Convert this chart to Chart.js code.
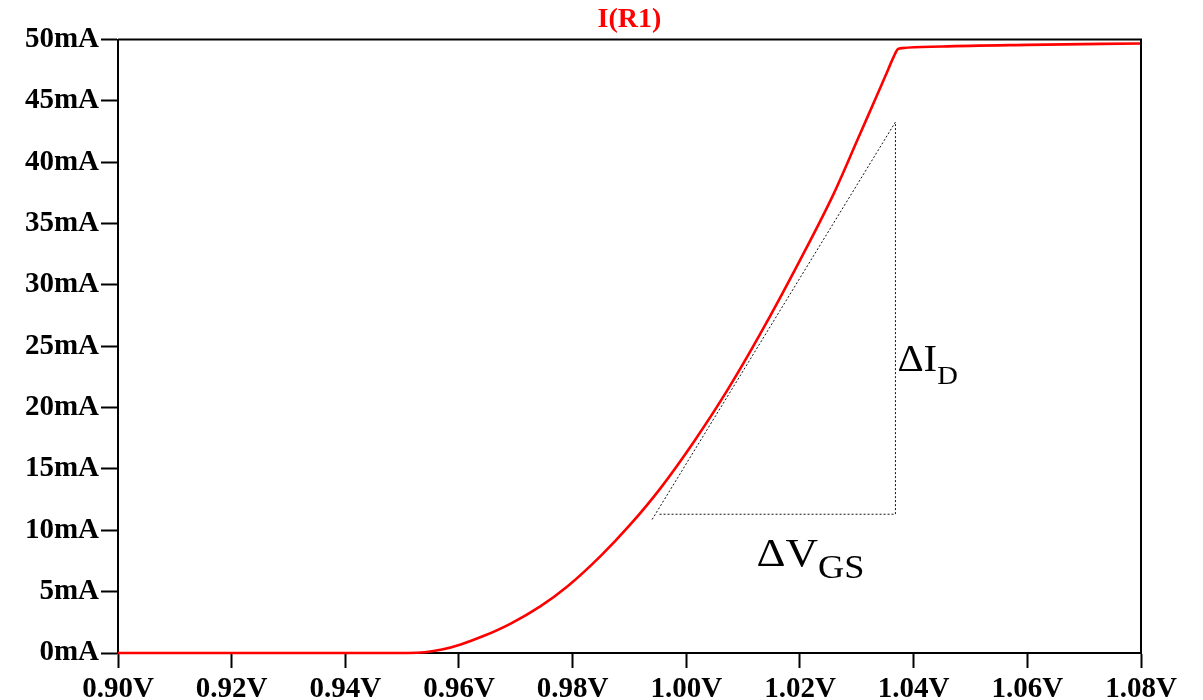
<!DOCTYPE html>
<html>
<head>
<meta charset="utf-8">
<title>I(R1)</title>
<script src="https://cdn.jsdelivr.net/npm/chart.js@4.4.1/dist/chart.umd.min.js"></script>
<style>
  html, body { margin: 0; padding: 0; background: #fff; }
  #wrap { width: 1203px; height: 700px; position: relative; }
</style>
</head>
<body>
<div id="wrap"><canvas id="c" width="1203" height="700"></canvas></div>
<script>
// Gate voltage sweep (V) and drain current through R1 (mA)
const vgs = [0.900, 0.945, 0.951, 0.954, 0.957, 0.9603, 0.9644, 0.9691, 0.9743, 0.9790,
             0.9849, 0.9902, 0.9954, 1.0013, 1.0072, 1.0130, 1.0201, 1.0259, 1.0300,
             1.0333, 1.0350, 1.0365, 1.0372, 1.0380, 1.0450, 1.0600, 1.0800];
const idR1 = [0, 0, 0, 0.06, 0.28, 0.7, 1.4, 2.4, 3.8, 5.4,
              7.9, 10.5, 13.4, 17.2, 21.4, 26.0, 32.1, 37.4, 41.7,
              45.2, 47.0, 48.6, 49.2, 49.3, 49.43, 49.56, 49.68];

// Slope triangle: hypotenuse, then vertical (ΔI_D), then horizontal (ΔV_GS)
const triV = [0.99398, 1.03679, 1.03679, 0.99509];
const triI = [10.88, 43.27, 11.31, 11.31];

// Axis ranges and tick steps
const xMin = 0.90, xMax = 1.08, xStep = 0.02;
const yMin = 0, yMax = 50, yStep = 5;

// Annotation anchors (left edge / baseline) in V, mA
const noteDI = { v: 1.03714, i: 23.0 };
const noteDV = { v: 1.01233, i: 7.1 };

const curve = vgs.map((v, k) => ({ x: v, y: idR1[k] }));
const tri = triV.map((v, k) => ({ x: v, y: triI[k] }));

const SERIF = '"Liberation Serif", "Times New Roman", serif';

const frame = {
  id: 'frame',
  afterDatasetsDraw(chart) {
    const { ctx, chartArea: a } = chart;
    ctx.save();
    ctx.strokeStyle = '#000';
    ctx.lineWidth = 2;
    ctx.beginPath();
    ctx.moveTo(a.left, a.top);
    ctx.lineTo(a.right, a.top);
    ctx.lineTo(a.right, a.bottom);
    ctx.stroke();
    ctx.restore();
  }
};

const notes = {
  id: 'notes',
  afterDatasetsDraw(chart) {
    const { ctx, scales: { x, y } } = chart;
    const draw = (anchor, main, sub, mainSize, subSize, drop) => {
      const px = x.getPixelForValue(anchor.v);
      const py = y.getPixelForValue(anchor.i);
      ctx.save();
      ctx.translate(px, py);
      ctx.scale(1.1, 1);
      ctx.fillStyle = '#000';
      ctx.textBaseline = 'alphabetic';
      ctx.textAlign = 'left';
      ctx.font = mainSize + 'px ' + SERIF;
      ctx.fillText(main, 0, 0);
      const w = ctx.measureText(main).width;
      ctx.font = subSize + 'px ' + SERIF;
      ctx.fillText(sub, w, drop);
      ctx.restore();
    };
    draw(noteDI, 'ΔI', 'D', 37, 26, 13);
    draw(noteDV, 'ΔV', 'GS', 41, 33, 12);
  }
};

new Chart(document.getElementById('c'), {
  type: 'line',
  data: {
    datasets: [
      {
        label: 'I(R1)',
        data: curve,
        borderColor: '#ff0000',
        borderWidth: 2.6,
        pointRadius: 0,
        cubicInterpolationMode: 'monotone',
        clip: 4,
        order: 1
      },
      {
        label: 'slope',
        data: tri,
        borderColor: '#111',
        borderWidth: 1,
        borderDash: [2, 2],
        pointRadius: 0,
        tension: 0,
        order: 2
      }
    ]
  },
  options: {
    responsive: false,
    animation: false,
    events: [],
    layout: { padding: { left: 0, right: 62, top: 0, bottom: 0 } },
    plugins: {
      legend: { display: false },
      tooltip: { enabled: false },
      title: {
        display: true,
        text: 'I(R1)',
        color: '#ff0000',
        fullSize: false,
        font: { family: SERIF, size: 28, weight: 'bold', lineHeight: 1.2 },
        padding: { top: 3, bottom: 2.9 }
      }
    },
    scales: {
      x: {
        type: 'linear',
        min: xMin,
        max: xMax,
        afterBuildTicks(scale) {
          const t = [];
          for (let k = 0; k <= Math.round((xMax - xMin) / xStep); k++) t.push({ value: +(xMin + k * xStep).toFixed(4) });
          scale.ticks = t;
        },
        afterFit(scale) { scale.height = 47; },
        grid: { drawOnChartArea: false, drawTicks: true, tickLength: 15, tickColor: '#000', tickWidth: 2 },
        border: { display: true, color: '#000', width: 2 },
        ticks: {
          color: '#000',
          padding: 4,
          maxRotation: 0,
          autoSkip: false,
          font: { family: SERIF, size: 29, weight: 'bold' },
          callback: v => Number(v).toFixed(2) + 'V'
        }
      },
      y: {
        type: 'linear',
        min: yMin,
        max: yMax,
        afterBuildTicks(scale) {
          const t = [];
          for (let v = yMin; v <= yMax; v += yStep) t.push({ value: v });
          scale.ticks = t;
        },
        afterFit(scale) { scale.width = 118; },
        grid: { drawOnChartArea: false, drawTicks: true, tickLength: 17, tickColor: '#000', tickWidth: 2 },
        border: { display: true, color: '#000', width: 2 },
        ticks: {
          color: '#000',
          padding: 2,
          autoSkip: false,
          font: { family: SERIF, size: 29, weight: 'bold' },
          callback: v => v + 'mA'
        }
      }
    }
  },
  plugins: [frame, notes]
});
</script>
</body>
</html>
